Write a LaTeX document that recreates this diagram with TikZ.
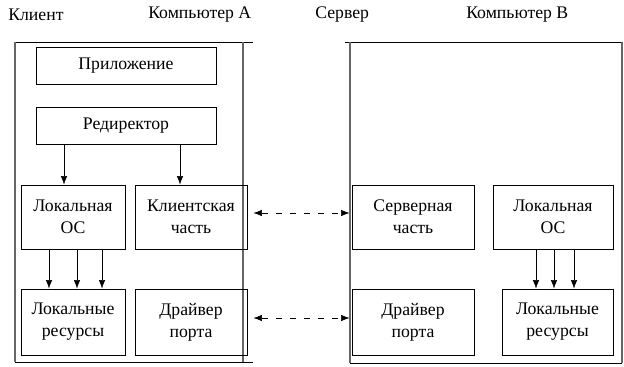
\documentclass[tikz,border=0pt]{standalone}
\usepackage{fontspec}
\setmainfont{Liberation Serif}
\usetikzlibrary{calc,arrows.meta}
\begin{document}
\begin{tikzpicture}[x=0.025cm, y=-0.025cm, >={Latex[length=6pt,width=4.5pt]},
    every node/.style={font=\fontsize{12.6}{15.5}\selectfont},
    box/.style={draw, line width=0.6pt, align=center, inner sep=0pt},
    lbl/.style={anchor=west, inner sep=0pt},
    frame/.style={line width=0.6pt},
    side/.style={line width=0.8pt, draw=black!60},
    link/.style={<->, dash pattern=on 4.3pt off 5.7pt}]
    \useasboundingbox (0,0) rectangle (624,367);
    \def\hgt{1.6cm}
    \node[lbl] (client) at (8,15) {Клиент};
    \node[lbl] (compA) at (148,15) {Компьютер A};
    \node[lbl] (server) at (315,15) {Сервер};
    \node[lbl] (compB) at (466,15) {Компьютер B};
    \draw[frame] (15,42) -- (253,42) (15,362) -- (253,362);
    \draw[side] (15,42) -- (15,362) (243,42) -- (243,362);
    \draw[frame] (345,42) -- (622,42) (350,363) -- (622,363);
    \draw[side] (350,42) -- (350,363) (622,42) -- (622,363);
    \node[box, minimum width=4.5cm, minimum height=0.925cm] (app) at (126,65.5) {Приложение};
    \node[box, minimum width=4.5cm, minimum height=0.925cm] (redir) at (126,125.5) {Редиректор};
    \node[box, minimum width=2.6cm, minimum height=\hgt] (osA) at (73,217) {Локальная\\ОС};
    \node[box, minimum width=2.8cm, minimum height=\hgt] (cliA) at (191,217) {Клиентская\\часть};
    \node[box, minimum width=2.6cm, minimum height=1.65cm] (resA) at (73,322) {Локальные\\ресурсы};
    \node[box, minimum width=2.8cm, minimum height=1.65cm] (drvA) at (191,322) {Драйвер\\порта};
    \node[box, minimum width=3.05cm, minimum height=\hgt] (srvB) at (413,217) {Серверная\\часть};
    \node[box, minimum width=3cm, minimum height=\hgt] (osB) at (553,217) {Локальная\\ОС};
    \node[box, minimum width=3.05cm, minimum height=1.65cm] (drvB) at (413,322) {Драйвер\\порта};
    \node[box, minimum width=2.775cm, minimum height=1.65cm] (resB) at (557.5,322) {Локальные\\ресурсы};
    \path ($(osA.north)+(-9,0)$) coordinate (t1) ($(cliA.north)+(-11,0)$) coordinate (t2);
    \draw[->] (t1 |- redir.south) -- (t1);
    \draw[->] (t2 |- redir.south) -- (t2);
    \foreach \dx in {-24,4,29}
        \draw[->] ($(osA.south)+(\dx,0)$) -- ($(resA.north)+(\dx,0)$);
    \foreach \dx in {-21.5,-3.5,16.5} {
        \path ($(resB.north)+(\dx,0)$) coordinate (t);
        \draw[->] (t |- osB.south) -- (t);
    }
    \draw[link] ($(cliA.east)+(6,-4)$) -- ($(srvB.west)+(-2,-4)$);
    \draw[link] ($(drvA.east)+(6,-4)$) -- ($(drvB.west)+(-2,-4)$);
\end{tikzpicture}
\end{document}
